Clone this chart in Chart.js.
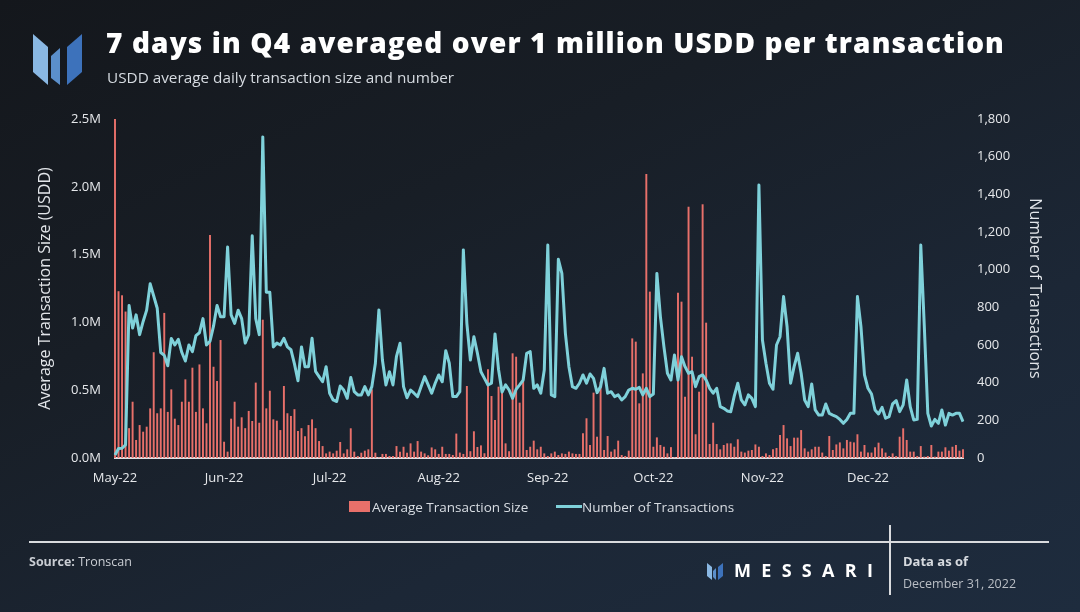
<!DOCTYPE html>
<html><head><meta charset="utf-8">
<script src="https://cdn.jsdelivr.net/npm/chart.js@4.4.0/dist/chart.umd.min.js"></script>
<style>
html,body{margin:0;padding:0;}
body{width:1080px;height:612px;overflow:hidden;position:relative;font-family:'Open Sans',sans-serif;
 background:linear-gradient(155deg,#14171c 0%,#181e26 35%,#1c2736 70%,#1e2c3e 100%);}
#c{position:absolute;left:0;top:0;}
.abs{position:absolute;white-space:nowrap;}
#title{left:106px;top:28px;font-size:28px;line-height:28px;font-weight:800;color:#fff;}
#subtitle{left:107px;top:69px;font-size:15.3px;line-height:16px;font-weight:400;color:#d6dbe1;}
.leg{font-size:13.5px;line-height:14px;color:#d8dde3;top:500px;}
#footer-line{left:29px;top:541px;width:1020px;height:2px;background:#d9dbde;}
#footer-vline{left:889px;top:525px;width:2px;height:70px;background:#d9dbde;}
#source{left:29px;top:553px;font-size:12.5px;color:#c9cdd3;}
#dataasof{left:903px;top:552px;font-size:13px;font-weight:700;color:#d6dadf;}
#datedate{left:903px;top:575px;font-size:12.5px;color:#b9bec5;}
#messari{left:734px;top:559px;font-size:18px;line-height:22px;font-weight:700;letter-spacing:10.3px;color:#fff;}
</style></head>
<body>
<canvas id="c" width="1080" height="612"></canvas>
<svg class="abs" style="left:0;top:0" width="100" height="100" viewBox="0 0 100 100">
  <polygon points="33,34 48,47 48,85 33,72" fill="#8ab8e3"/>
  <polygon points="51,56 60,48 60,85 51,78" fill="#5b8fcb"/>
  <polygon points="67,47 82,34 82,72 67,85" fill="#3d72bb"/>
</svg>
<div id="title" class="abs">7 days in Q4 averaged over 1 million USDD per transaction</div>
<div id="subtitle" class="abs">USDD average daily transaction size and number</div>
<div class="abs" style="left:349px;top:501px;width:21px;height:11px;background:#e8706a;"></div>
<div class="abs leg" style="left:372px;">Average Transaction Size</div>
<div class="abs" style="left:556px;top:505px;width:26px;height:3px;background:#7fd1da;"></div>
<div class="abs leg" style="left:582px;">Number of Transactions</div>
<div id="footer-line" class="abs"></div>
<div id="footer-vline" class="abs"></div>
<div id="source" class="abs"><b>Source:</b> Tronscan</div>
<svg class="abs" style="left:707px;top:562px" width="16" height="18" viewBox="0 0 16 18">
  <polygon points="0,1 5,5 5,18 0,14" fill="#8ab8e3"/>
  <polygon points="6,9 9,6 9,18 6,15" fill="#5b8fcb"/>
  <polygon points="11,5 16,1 16,14 11,18" fill="#3d72bb"/>
</svg>
<div id="messari" class="abs">MESSARI</div>
<div id="dataasof" class="abs">Data as of</div>
<div id="datedate" class="abs">December 31, 2022</div>
<script>
// ---- data ----
const startDate = [2022, 4, 1]; // 1 May 2022, one category per day
const monthLabels = ['May-22','Jun-22','Jul-22','Aug-22','Sep-22','Oct-22','Nov-22','Dec-22'];
const leftAxisTicks = [0, 0.5, 1.0, 1.5, 2.0, 2.5];           // millions USDD
const rightAxisTicks = [0,200,400,600,800,1000,1200,1400,1600,1800];

// Average transaction size, millions of USDD (daily)
const avgTxSize = [
 2.50,1.23,1.20,1.08,0.22,0.415,0.133,0.243,0.194,0.231,
 0.366,0.78,0.33,0.366,1.07,0.34,0.506,0.29,0.243,0.415,
 0.58,0.415,0.666,0.34,0.69,0.366,0.256,1.645,0.673,0.568,
 0.87,0.12,0.047,0.29,0.415,0.231,0.30,0.22,0.347,0.273,
 0.556,0.26,1.02,0.366,0.496,0.285,0.275,0.206,0.531,0.33,
 0.31,0.36,0.20,0.22,0.16,0.243,0.285,0.22,
 0.125,0.088,0.034,0.047,0.034,0.054,0.118,0.034,0.064,0.219,
 0.047,0.015,0.039,0.054,0.064,0.506,0.039,0.005,0.03,0.03,
 0.015,0.015,0.088,0.047,0.083,0.039,0.108,0.047,0.125,0.047,
 0.034,0.02,0.078,0.064,0.03,0.083,0.03,
 0.03,0.022,0.18,0.04,0.03,0.531,0.05,0.197,0.081,0.093,
 0.035,0.654,0.457,0.28,0.526,0.50,0.108,0.05,0.772,0.747,
 0.408,0.568,
 0.059,0.083,0.128,0.064,0.083,0.034,0.015,0.034,0.047,0.022,
 0.034,0.03,0.047,0.034,0.03,0.03,0.182,0.293,0.096,0.482,
 0.157,0.563,0.059,0.162,0.047,0.064,0.128,0.022,0.015,0.054,
 0.882,0.858,0.403,0.624,2.094,1.227,0.083,0.152,0.096,0.083,
 0.034,0.08,0.005,1.219,1.153,0.452,1.853,0.747,0.175,0.489,
 1.871,0.998,
 0.103,0.26,0.103,0.064,0.096,0.108,0.108,0.083,0.138,0.047,
 0.04,0.054,0.059,0.10,0.083,0.015,0.034,0.022,0.064,0.074,
 0.17,0.243,0.145,0.088,0.15,0.15,0.206,0.071,0.047,0.064,
 0.083,0.083,0.04,0.015,0.162,0.059,0.10,0.115,0.071,0.133,
 0.12,0.115,0.175,0.047,0.096,0.04,0.04,0.079,0.113,0.071,
 0.04,0.015,0.034,0.015,0.157,0.219,0.133,0.047,0.047,0.015,
 0.088,0.01,0.015,0.096,0.01,0.047,0.047,0.079,0.054,0.083,
 0.096,0.054,0.064
];

// Number of transactions (daily)
const numTx = [
 16,50,52,70,810,690,760,655,725,785,
 925,860,795,560,545,490,635,600,630,560,
 515,600,565,650,665,740,600,620,700,810,
 750,750,1120,760,715,785,740,610,655,1180,
 740,655,1705,880,880,590,610,600,635,590,
 575,500,410,590,485,485,636,460,432,405,
 485,344,308,300,382,361,317,428,352,335,
 335,379,335,379,503,786,520,388,458,388,
 540,609,379,320,361,344,326,379,432,388,
 344,397,441,405,570,503,326,326,352,1105,
 715,520,644,556,458,423,388,397,659,470,
 350,388,361,317,365,388,414,556,565,370,
 388,344,467,1131,335,326,1055,980,662,485,
 379,370,397,441,397,446,423,347,379,476,
 344,352,326,335,308,326,361,370,365,375,
 335,370,326,340,980,751,591,450,414,547,
 414,538,485,450,458,379,432,441,414,370,
 344,370,273,264,250,246,330,397,308,282,
 335,317,273,1450,627,503,397,365,600,644,
 857,697,397,485,556,450,308,273,393,255,
 228,228,287,237,228,220,205,184,205,237,
 237,857,697,441,370,340,255,234,269,211,
 220,287,305,246,282,414,273,202,205,1131,
 700,237,170,205,184,255,175,237,228,237,
 237,193
];

// ---- categories: one per day ----
const days = numTx.map((_, i) => new Date(Date.UTC(startDate[0], startDate[1], startDate[2] + i)));
const categories = days.map(d => d.toISOString().slice(0, 10));

// fit title to reference width
(function(){
  const t = document.getElementById('title');
  const target = 899;
  const w = t.getBoundingClientRect().width;
  const n = t.textContent.length;
  t.style.letterSpacing = ((target - w) / n) + 'px';
})();

const tickColor = '#e6e8eb';
const tickFont = {family: "'Open Sans', sans-serif", size: 13};
const titleFont = {family: "'Open Sans', sans-serif", size: 16};

new Chart(document.getElementById('c'), {
  data: {
    labels: categories,
    datasets: [
      {type: 'line', label: 'Number of Transactions', data: numTx, yAxisID: 'y1',
       borderColor: '#7fd1da', borderWidth: 3, pointRadius: 0, tension: 0, order: 0,
       borderJoinStyle: 'round'},
      {type: 'bar', label: 'Average Transaction Size', data: avgTxSize, yAxisID: 'y',
       backgroundColor: '#e8706a', barPercentage: 0.55, categoryPercentage: 1, order: 1, clip: false}
    ]
  },
  options: {
    responsive: false, animation: false,
    layout: {padding: {left: 32, right: 32, top: 119, bottom: 124}},
    plugins: {legend: {display: false}, tooltip: {enabled: false}},
    scales: {
      x: {
        type: 'category', offset: false,
        grid: {display: false, drawTicks: false},
        border: {display: true, color: '#dfe1e4', width: 2},
        ticks: {autoSkip: false, maxRotation: 0, minRotation: 0, padding: 12,
          color: tickColor, font: tickFont,
          callback: function(v, i) {
            const d = days[i];
            return d.getUTCDate() === 1 ? monthLabels[d.getUTCMonth() - startDate[1]] : '';
          }},
        afterFit: s => { s.height = 30; }
      },
      y: {
        position: 'left', min: leftAxisTicks[0], max: leftAxisTicks[leftAxisTicks.length - 1],
        afterBuildTicks: s => { s.ticks = leftAxisTicks.map(v => ({value: v})); },
        grid: {display: false, drawTicks: false}, border: {display: false},
        ticks: {padding: 14, color: tickColor, font: tickFont, callback: v => v.toFixed(1) + 'M'},
        title: {display: true, text: 'Average Transaction Size (USDD)', color: '#e3e6ea', font: titleFont, padding: {top: 4, bottom: 4}},
        afterFit: s => { s.width = 83; }
      },
      y1: {
        position: 'right', min: rightAxisTicks[0], max: rightAxisTicks[rightAxisTicks.length - 1],
        afterBuildTicks: s => { s.ticks = rightAxisTicks.map(v => ({value: v})); },
        grid: {display: false, drawTicks: false}, border: {display: false},
        ticks: {padding: 14, color: tickColor, font: tickFont, callback: v => v.toLocaleString('en-US')},
        title: {display: true, text: 'Number of Transactions', color: '#e3e6ea', font: titleFont, padding: {top: 4, bottom: 4}},
        afterFit: s => { s.width = 85; }
      }
    }
  }
});
</script>
</body></html>
